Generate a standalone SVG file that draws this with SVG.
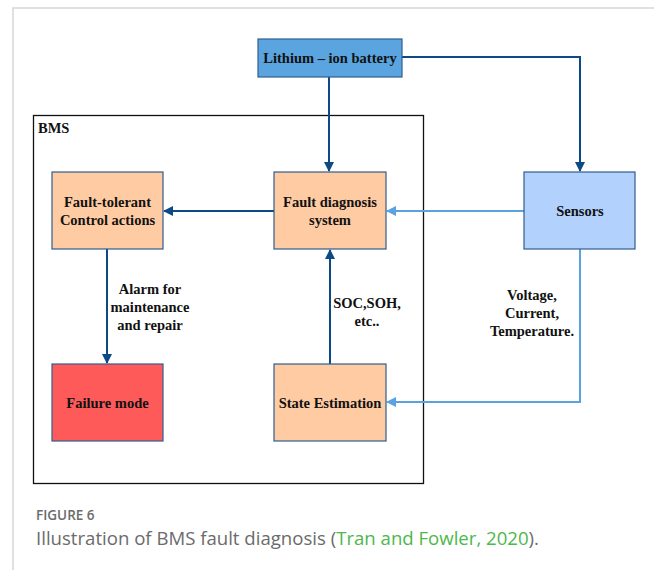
<svg xmlns="http://www.w3.org/2000/svg" width="654" height="570" viewBox="0 0 654 570">
<style>
.box{stroke:#2F5E8E;stroke-width:1.2}
.t{font-family:"Liberation Serif","Times New Roman",serif;font-weight:bold;font-size:14.5px;fill:#111;text-anchor:middle}
.dk{stroke:#0D4A85;stroke-width:2;fill:none}
.lt{stroke:#5AA3DE;stroke-width:2;fill:none}
.cap{font-family:"Open Sans","Noto Sans",sans-serif;fill:#6b6b6b}
</style>
<defs>
<marker id="ad" viewBox="0 0 10 10" refX="9" refY="5" markerWidth="10" markerHeight="11" orient="auto" markerUnits="userSpaceOnUse">
<path d="M0,0 L10,5 L0,10 z" fill="#0D4A85"/>
</marker>
<marker id="al" viewBox="0 0 10 10" refX="9" refY="5" markerWidth="10" markerHeight="11" orient="auto" markerUnits="userSpaceOnUse">
<path d="M0,0 L10,5 L0,10 z" fill="#5AA3DE"/>
</marker>
</defs>
<rect width="654" height="570" fill="#fff"/>
<path d="M13,570 V8 H654" stroke="#d6d6d6" stroke-width="1.5" fill="none"/>
<g id="bms">
<rect x="33.5" y="115.5" width="390" height="368" fill="none" stroke="#111" stroke-width="1.3"/>
<text x="38" y="133" class="t" style="text-anchor:start">BMS</text>
</g>
<g id="connectors">
<path class="dk" d="M402,57 H580 V171" marker-end="url(#ad)"/>
<path class="dk" d="M329,77 V171" marker-end="url(#ad)"/>
<path class="dk" d="M274,211 H164" marker-end="url(#ad)"/>
<path class="lt" d="M524,211 H387" marker-end="url(#al)"/>
<path class="lt" d="M580,249 V402 H387" marker-end="url(#al)"/>
<path class="dk" d="M107,249 V363" marker-end="url(#ad)"/>
<path class="dk" d="M330,364 V250" marker-end="url(#ad)"/>
<text class="t" x="150" y="294">Alarm for</text>
<text class="t" x="150" y="312">maintenance</text>
<text class="t" x="150" y="330">and repair</text>
<text class="t" x="367" y="308">SOC,SOH,</text>
<text class="t" x="367" y="326">etc..</text>
<text class="t" x="532" y="300">Voltage,</text>
<text class="t" x="532" y="318">Current,</text>
<text class="t" x="532" y="336">Temperature.</text>
</g>
<g id="battery">
<rect class="box" x="258" y="39" width="144" height="38" fill="#5AA5DF"/>
<text class="t" x="330" y="63">Lithium – ion battery</text>
</g>
<g id="fault-tolerant">
<rect class="box" x="52" y="172" width="111" height="77" fill="#FFCBA2"/>
<text class="t" x="107.5" y="207">Fault-tolerant</text>
<text class="t" x="107.5" y="225">Control actions</text>
</g>
<g id="fault-diagnosis">
<rect class="box" x="274" y="172" width="112" height="77" fill="#FFCBA2"/>
<text class="t" x="330" y="207">Fault diagnosis</text>
<text class="t" x="330" y="225">system</text>
</g>
<g id="sensors">
<rect class="box" x="524" y="172" width="111" height="77" fill="#B2D2FD"/>
<text class="t" x="580" y="216">Sensors</text>
</g>
<g id="failure-mode">
<rect class="box" x="52" y="364" width="111" height="77" fill="#FF5A5A"/>
<text class="t" x="107.5" y="408">Failure mode</text>
</g>
<g id="state-estimation">
<rect class="box" x="274" y="364" width="112" height="77" fill="#FFCBA2"/>
<text class="t" x="330" y="408">State Estimation</text>
</g>
<g id="caption">
<text class="cap" x="36" y="520" font-size="13.5" font-weight="600">FIGURE 6</text>
<text class="cap" x="36" y="544.5" font-size="18.6">Illustration of BMS fault diagnosis (<tspan fill="#4CB84C">Tran and Fowler, 2020</tspan>).</text>
</g>
</svg>
